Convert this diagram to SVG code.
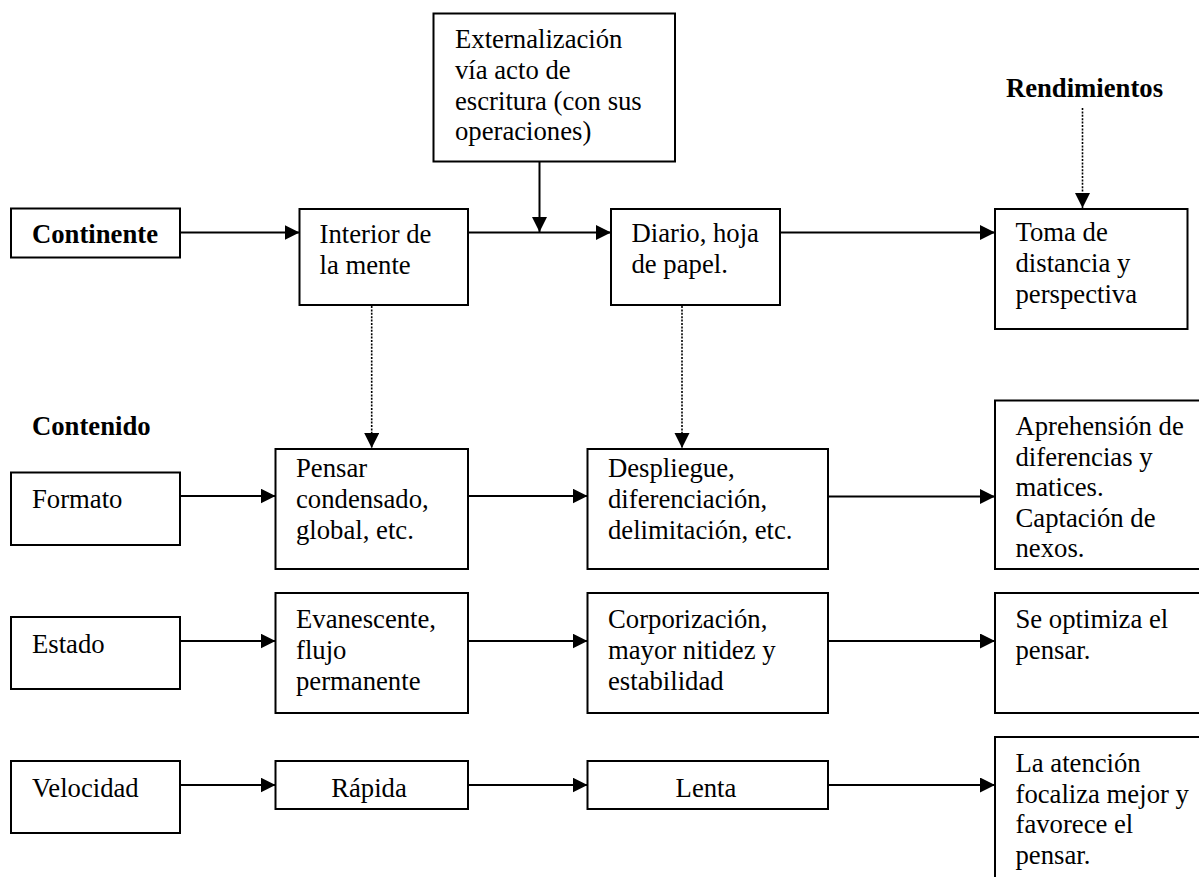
<svg xmlns="http://www.w3.org/2000/svg" width="1199" height="877" viewBox="0 0 1199 877">
<style>
.box{fill:#fff;stroke:#000;stroke-width:2}
.t{font-family:"Liberation Serif","Times New Roman",serif;font-size:26.7px;fill:#000}
.b{font-weight:bold}
.c{text-anchor:middle}
.ln{stroke:#000;stroke-width:2;fill:none}
.dot{stroke:#000;stroke-width:1.6;fill:none;stroke-dasharray:2 1.4}
</style>
<defs>
<marker id="ah" markerUnits="userSpaceOnUse" markerWidth="16" markerHeight="16" refX="15" refY="7.5" orient="auto">
<path d="M0,0 L15,7.5 L0,15 Z" fill="#000"/>
</marker>
</defs>
<rect width="1199" height="877" fill="#fff"/>
<g id="connectors">
<line class="ln" x1="180" y1="232.5" x2="299.5" y2="232.5" marker-end="url(#ah)"/>
<line class="ln" x1="468" y1="232.5" x2="611" y2="232.5" marker-end="url(#ah)"/>
<line class="ln" x1="539.5" y1="162" x2="539.5" y2="232" marker-end="url(#ah)"/>
<line class="ln" x1="780" y1="232.5" x2="995" y2="232.5" marker-end="url(#ah)"/>
<line class="dot" x1="1082.5" y1="108" x2="1082.5" y2="208" marker-end="url(#ah)"/>
<line class="dot" x1="371.7" y1="306" x2="371.7" y2="448" marker-end="url(#ah)"/>
<line class="dot" x1="682" y1="306" x2="682" y2="448" marker-end="url(#ah)"/>
<line class="ln" x1="180" y1="496" x2="275.5" y2="496" marker-end="url(#ah)"/>
<line class="ln" x1="468" y1="496" x2="587.5" y2="496" marker-end="url(#ah)"/>
<line class="ln" x1="828" y1="496.5" x2="995" y2="496.5" marker-end="url(#ah)"/>
<line class="ln" x1="180" y1="641" x2="275.5" y2="641" marker-end="url(#ah)"/>
<line class="ln" x1="468" y1="641" x2="587.5" y2="641" marker-end="url(#ah)"/>
<line class="ln" x1="828" y1="641" x2="995" y2="641" marker-end="url(#ah)"/>
<line class="ln" x1="180" y1="785" x2="275.5" y2="785" marker-end="url(#ah)"/>
<line class="ln" x1="468" y1="785" x2="587.5" y2="785" marker-end="url(#ah)"/>
<line class="ln" x1="828" y1="785" x2="995" y2="785" marker-end="url(#ah)"/>
</g>
<g id="continente"><rect class="box" x="11" y="208.5" width="169" height="49"/><text class="t b" x="32" y="243">Continente</text></g>
<g id="interior"><rect class="box" x="299.5" y="209" width="168.5" height="96"/><text class="t" x="319.5" y="243">Interior de</text><text class="t" x="319.5" y="274">la mente</text></g>
<g id="externalizacion"><rect class="box" x="433.5" y="13.5" width="241.5" height="148"/><text class="t" x="455" y="48">Externalización</text><text class="t" x="455" y="79">vía acto de</text><text class="t" x="455" y="109.5">escritura (con sus</text><text class="t" x="455" y="140">operaciones)</text></g>
<g id="diario"><rect class="box" x="611" y="209" width="169" height="96"/><text class="t" x="631.5" y="242">Diario, hoja</text><text class="t" x="631.5" y="273">de papel.</text></g>
<g id="rendimientos"><text class="t b c" x="1084.5" y="97">Rendimientos</text></g>
<g id="toma"><rect class="box" x="995" y="209" width="192.5" height="120"/><text class="t" x="1015.5" y="241">Toma de</text><text class="t" x="1015.5" y="272">distancia y</text><text class="t" x="1015.5" y="303">perspectiva</text></g>
<g id="contenido"><text class="t b" x="32" y="435">Contenido</text></g>
<g id="formato"><rect class="box" x="11" y="472.5" width="169" height="72.5"/><text class="t" x="32" y="508">Formato</text></g>
<g id="pensar"><rect class="box" x="275.5" y="449" width="192.5" height="120"/><text class="t" x="296" y="477">Pensar</text><text class="t" x="296" y="508">condensado,</text><text class="t" x="296" y="539">global, etc.</text></g>
<g id="despliegue"><rect class="box" x="587.5" y="449" width="240.5" height="120"/><text class="t" x="608" y="477">Despliegue,</text><text class="t" x="608" y="508">diferenciación,</text><text class="t" x="608" y="539">delimitación, etc.</text></g>
<g id="aprehension"><rect class="box" x="995" y="400.5" width="212" height="168.5"/><text class="t" x="1015.5" y="435">Aprehensión de</text><text class="t" x="1015.5" y="465.5">diferencias y</text><text class="t" x="1015.5" y="496">matices.</text><text class="t" x="1015.5" y="526.5">Captación de</text><text class="t" x="1015.5" y="557">nexos.</text></g>
<g id="estado"><rect class="box" x="11" y="617" width="169" height="72"/><text class="t" x="32" y="653">Estado</text></g>
<g id="evanescente"><rect class="box" x="275.5" y="593" width="192.5" height="120"/><text class="t" x="296" y="628">Evanescente,</text><text class="t" x="296" y="659">flujo</text><text class="t" x="296" y="690">permanente</text></g>
<g id="corporizacion"><rect class="box" x="587.5" y="593" width="240.5" height="120"/><text class="t" x="608" y="628">Corporización,</text><text class="t" x="608" y="659">mayor nitidez y</text><text class="t" x="608" y="690">estabilidad</text></g>
<g id="optimiza"><rect class="box" x="995" y="593" width="212" height="120"/><text class="t" x="1015.5" y="628">Se optimiza el</text><text class="t" x="1015.5" y="658.5">pensar.</text></g>
<g id="velocidad"><rect class="box" x="11" y="761" width="169" height="72"/><text class="t" x="32" y="797">Velocidad</text></g>
<g id="rapida"><rect class="box" x="275.5" y="761" width="192.5" height="48"/><text class="t c" x="369" y="797">Rápida</text></g>
<g id="lenta"><rect class="box" x="587.5" y="761" width="240.5" height="48"/><text class="t c" x="706" y="797">Lenta</text></g>
<g id="atencion"><rect class="box" x="995" y="737" width="212" height="150"/><text class="t" x="1015.5" y="772">La atención</text><text class="t" x="1015.5" y="802.5">focaliza mejor y</text><text class="t" x="1015.5" y="833">favorece el</text><text class="t" x="1015.5" y="863.5">pensar.</text></g>
</svg>
